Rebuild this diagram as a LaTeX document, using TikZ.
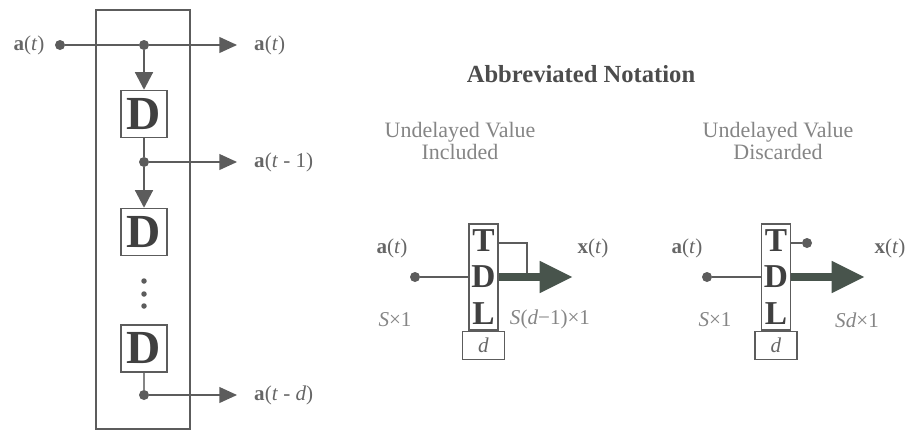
\documentclass[tikz,border=0pt]{standalone}
\usepackage{fontspec}
\setmainfont{Liberation Serif}
\usetikzlibrary{arrows.meta,positioning}
\definecolor{lineg}{gray}{0.36}
\definecolor{textg}{gray}{0.40}
\definecolor{lightg}{gray}{0.52}
\definecolor{darkg}{gray}{0.25}
\definecolor{busg}{RGB}{72,84,76}
\begin{document}
\begin{tikzpicture}[font=\fontsize{12}{14}\selectfont, text=textg,
    dot/.style={circle, fill=lineg, inner sep=0pt, minimum size=0.2cm},
    dbox/.style={draw=lineg, line width=0.8pt, inner sep=0pt, minimum width=0.92cm,
      minimum height=0.94cm, text=darkg, font=\fontsize{27}{27}\selectfont\bfseries},
    wire/.style={draw=lineg, line width=0.7pt},
    sig/.style={wire, -{Triangle[length=10pt,width=9pt]}},
    down/.style={draw=lineg, line width=1.6pt, -{Triangle[length=10pt,width=10pt]}},
    tdl/.style={draw=lineg, line width=0.8pt, inner sep=0pt, minimum width=0.58cm,
      minimum height=2.12cm, align=center, text=darkg, font=\fontsize{19}{21}\selectfont\bfseries},
    dsize/.style={draw=lineg, line width=0.7pt, inner sep=0pt, minimum width=0.84cm,
      minimum height=0.56cm, font=\fontsize{12}{12}\selectfont\itshape},
    bus/.style={draw=busg, line width=4.5pt, -{Triangle[length=19pt,width=17pt]}},
    hdr/.style={align=center, text=lightg, font=\fontsize{12.5}{13}\selectfont},
    dim/.style={text=lightg}]
  \useasboundingbox (0,0) rectangle (18.18,8.62);
  % tapped delay line
  \draw[lineg, line width=0.7pt] (1.92,0.04) rectangle (3.8,8.42);
  \node[dot] (in) at (1.2,7.72) {};
  \node[left=0.08cm of in] (lin) {\textbf{a}(\textit{t})};
  \node[dot] (b0) at (2.88,7.72) {};
  \coordinate (o0) at (4.74,7.72);
  \node[right=0.22cm of o0] (l0) {\textbf{a}(\textit{t})};
  \node[dbox] (d1) at (2.88,6.34) {D};
  \node[dot] (b1) at (2.88,5.38) {};
  \coordinate (o1) at (4.74,5.38);
  \node[right=0.22cm of o1] (l1) {\textbf{a}(\textit{t} - 1)};
  \node[dbox] (d2) at (2.88,3.98) {D};
  \node[dbox] (d3) at (2.88,1.65) {D};
  \node[dot] (b3) at (2.88,0.72) {};
  \coordinate (o3) at (4.74,0.72);
  \node[right=0.22cm of o3] (l3) {\textbf{a}(\textit{t} - \textit{d})};
  \draw[wire] (in) -- (b0);
  \draw[sig] (b0) -- (o0);
  \draw[down] (b0) -- (d1);
  \draw[draw=lineg, line width=1.6pt] (d1) -- (b1);
  \draw[sig] (b1) -- (o1);
  \draw[down] (b1) -- (d2);
  \draw[draw=lightg, line width=1.2pt] (d3) -- (b3);
  \draw[sig] (b3) -- (o3);
  \foreach \y in {3.0,2.74,2.5}
    \fill[lineg] (2.88,\y) circle (0.055);
  % abbreviated notation
  \node[text=black!70, font=\fontsize{14}{16}\selectfont\bfseries] (title) at (11.62,7.14) {Abbreviated Notation};
  \node[hdr] (hA) at (9.2,5.8) {Undelayed Value\\Included};
  \node[hdr] (hB) at (15.56,5.8) {Undelayed Value\\Discarded};
  % undelayed value included
  \node[tdl] (tA) at (9.67,3.08) {T\\D\\L};
  \node[dsize, below=0pt of tA] (dA) {d};
  \node[dot] (iA) at (8.3,3.08) {};
  \coordinate (kA) at (10.54,3.76);
  \coordinate (oA) at (11.46,3.08);
  \draw[wire] (iA) -- (tA);
  \draw[wire] (tA.east |- kA) -- (kA) -- (kA |- tA.east);
  \draw[bus] (tA) -- (oA);
  \node (aA) at (7.84,3.66) {\textbf{a}(\textit{t})};
  \node (xA) at (11.86,3.66) {\textbf{x}(\textit{t})};
  \node[dim] (sA) at (7.9,2.22) {\textit{S}×1};
  \node[dim] (rA) at (11.0,2.24) {\textit{S}(\textit{d}−1)×1};
  % undelayed value discarded
  \node[tdl] (tB) at (15.52,3.08) {T\\D\\L};
  \node[dsize, below=0pt of tB] (dB) {d};
  \node[dot] (iB) at (14.14,3.08) {};
  \node[dot] (kB) at (16.14,3.76) {};
  \coordinate (oB) at (17.3,3.08);
  \draw[wire] (iB) -- (tB);
  \draw[wire] (tB.east |- kB) -- (kB);
  \draw[bus] (tB) -- (oB);
  \node (aB) at (13.74,3.66) {\textbf{a}(\textit{t})};
  \node (xB) at (17.8,3.66) {\textbf{x}(\textit{t})};
  \node[dim] (sB) at (14.3,2.22) {\textit{S}×1};
  \node[dim] (rB) at (17.14,2.22) {\textit{Sd}×1};
\end{tikzpicture}
\end{document}
